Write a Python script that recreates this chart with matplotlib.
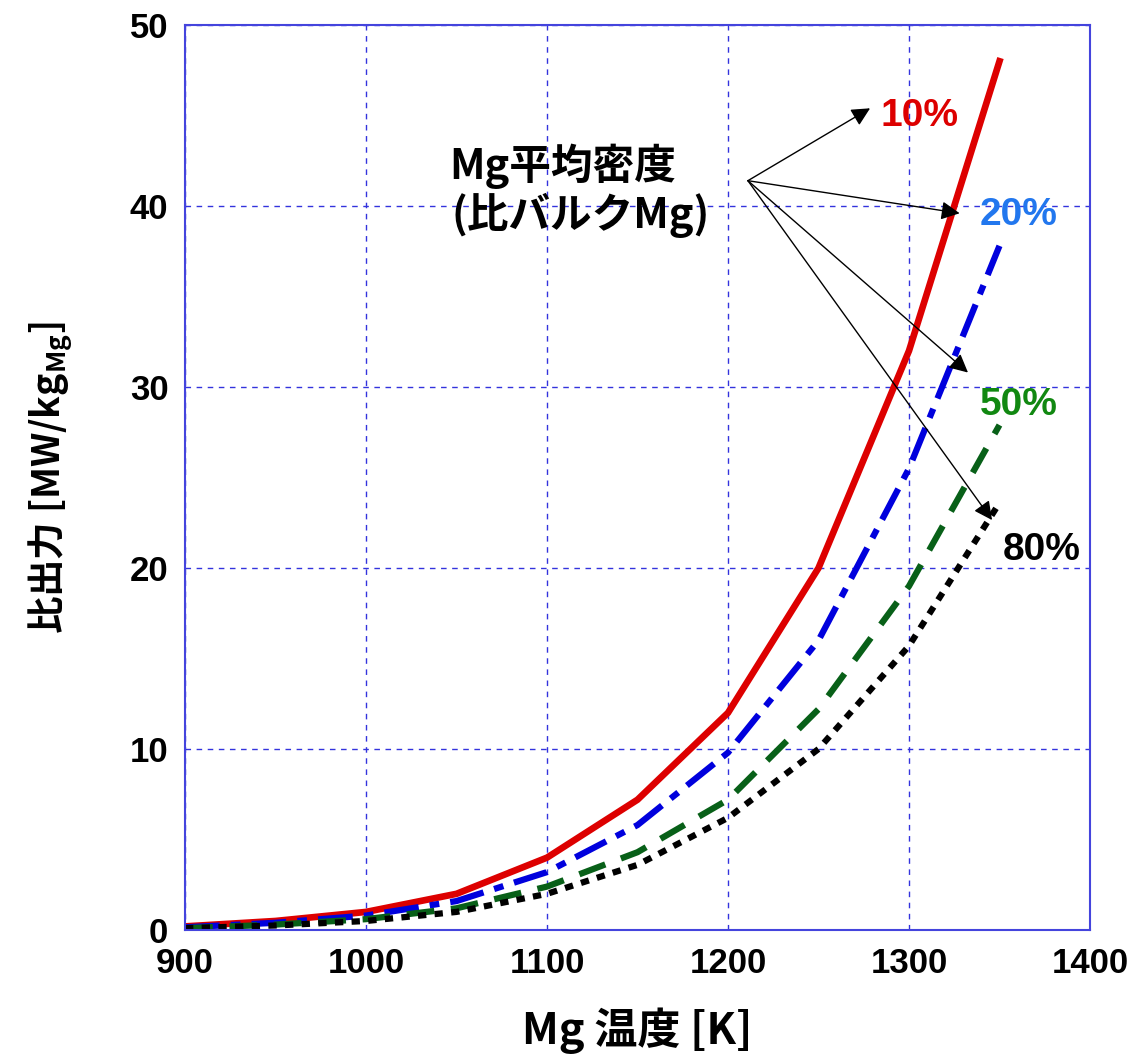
import matplotlib
matplotlib.use('Agg')
import matplotlib.pyplot as plt

# --- data ---
temps = [900, 950, 1000, 1050, 1100, 1150, 1200, 1250, 1300, 1350]
power_10 = [0.2, 0.5, 1.0, 2.0, 4.0, 7.2, 12.0, 20.0, 32.0, 48.0]
power_20 = [0.15, 0.4, 0.8, 1.6, 3.2, 5.8, 9.8, 16.0, 25.5, 37.8]
power_50 = [0.1, 0.3, 0.6, 1.2, 2.4, 4.3, 7.2, 12.2, 19.0, 27.9]
power_80 = [0.1, 0.25, 0.5, 1.0, 2.0, 3.6, 6.2, 10.0, 15.7, 23.6]
labels = ['10%', '20%', '50%', '80%']

plt.rcParams['lines.scale_dashes'] = False
cjk = ['Noto Sans CJK JP', 'DejaVu Sans']
num_font = 'Liberation Sans'

fig = plt.figure(figsize=(11.38, 10.56), dpi=100)
ax = fig.add_axes([0.1626, 0.1193, 0.7952, 0.857])

ax.plot(temps, power_10, color='#dd0000', lw=4.8, solid_joinstyle='miter')
ax.plot(temps, power_20, color='#0000dd', lw=4.5, dashes=(25, 8, 7, 8), dash_capstyle='butt')
ax.plot(temps, power_50, color='#086018', lw=4.5, dashes=(20, 12), dash_capstyle='butt')
ax.plot(temps, power_80, color='black', lw=4.5, dashes=(6, 6), dash_capstyle='butt')

ax.set_xlim(900, 1400)
ax.set_ylim(0, 50)
ax.set_xticks([900, 1000, 1100, 1200, 1300, 1400])
ax.set_yticks([0, 10, 20, 30, 40, 50])
ax.grid(True, color='#3333dd', linestyle=(0, (4, 4)), lw=1.0)
for s in ax.spines.values():
    s.set_color('#4444dd')
    s.set_linewidth(1.5)
ax.tick_params(length=0, pad=12)
for t in ax.get_xticklabels() + ax.get_yticklabels():
    t.set_fontfamily(num_font)
    t.set_fontweight('bold')
    t.set_fontsize(25)

ax.set_xlabel('Mg 温度 [K]', family=cjk, fontweight='bold', fontsize=31, labelpad=20)
ax.set_ylabel(r'比出力 [MW/kg$_{\mathregular{Mg}}$]', family=cjk, fontweight='bold',
              fontsize=27, labelpad=40)

# curve labels
label_pos = [(1284, 45.0), (1339, 39.5), (1339, 29.0), (1352, 21.0)]
label_cols = ['#dd0000', '#2277ee', '#118811', 'black']
for lab, (lx, ly), c in zip(labels, label_pos, label_cols):
    ax.text(lx, ly, lab, color=c, fontsize=28, fontweight='bold', family=num_font,
            ha='left', va='center')

# annotation
ax.text(1046, 42.2, 'Mg平均密度', family=cjk, fontweight='bold', fontsize=30,
        ha='left', va='center')
ax.text(1047, 39.5, '(比バルクMg)', family=cjk, fontweight='bold', fontsize=30,
        ha='left', va='center')
src = (1211, 41.4)
targets = [(1278.5, 45.4), (1328, 39.6), (1332.6, 30.8), (1345.9, 22.65)]
for tx, ty in targets:
    ax.annotate('', xy=(tx, ty), xytext=src,
                arrowprops=dict(arrowstyle='-|>', color='black', lw=1.0,
                                mutation_scale=28, shrinkA=0, shrinkB=0))

fig.savefig('out.png', dpi=100)
